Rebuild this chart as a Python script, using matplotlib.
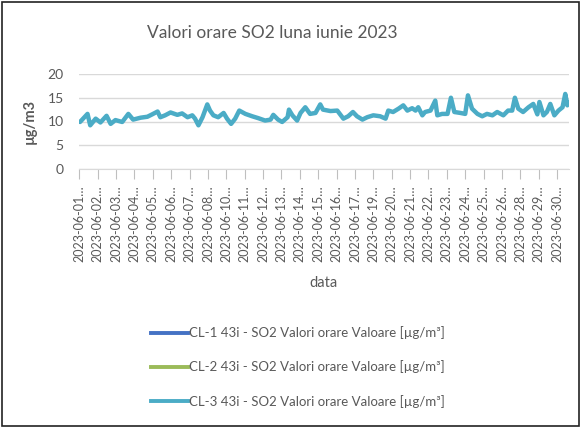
import matplotlib.pyplot as plt
from matplotlib.lines import Line2D
from matplotlib.patches import Rectangle

plt.rcParams['font.family'] = ['Lato', 'DejaVu Sans']

# ore de la 2023-06-01 01:00 si valorile citite pentru CL-3
ore = [1, 12, 16, 24, 31, 40, 46, 53, 63, 72, 79, 90, 100, 107, 115, 119, 126, 134,
       144, 151, 159, 166, 170, 175, 181, 188, 192, 197, 204, 212, 217, 223, 229,
       235, 244, 254, 263, 273, 281, 285, 292, 298, 306, 308, 313, 320, 325, 332,
       339, 347, 354, 358, 369, 379, 388, 395, 402, 408, 416, 423, 432, 442, 450,
       454, 461, 469, 476, 482, 489, 494, 498, 504, 508, 516, 523, 526, 533, 541,
       546, 551, 560, 567, 571, 577, 585, 592, 599, 607, 614, 623, 630, 636, 640,
       645, 652, 660, 667, 673, 676, 682, 687, 692, 698, 704, 710, 714, 717, 719]
so2_cl3 = [9.9, 11.6, 9.2, 10.6, 9.8, 11.2, 9.5, 10.3, 9.9, 11.6, 10.4, 10.8, 11.0,
           11.5, 12.1, 10.9, 11.3, 11.9, 11.4, 11.7, 10.9, 11.3, 10.6, 9.2, 10.9,
           13.6, 12.3, 11.3, 10.9, 11.8, 10.6, 9.5, 10.6, 12.3, 11.6, 11.1, 10.7,
           10.2, 10.4, 11.4, 10.4, 9.9, 10.9, 12.5, 11.3, 10.2, 11.8, 13.0, 11.6,
           11.8, 13.6, 12.5, 12.2, 12.3, 10.6, 11.1, 12.0, 11.1, 10.4, 10.9, 11.3,
           11.1, 10.6, 12.3, 12.0, 12.7, 13.4, 12.3, 12.8, 12.3, 13.0, 11.3, 12.0,
           12.3, 14.4, 11.3, 11.6, 11.6, 15.0, 12.0, 11.8, 11.6, 15.5, 12.7, 11.6,
           11.1, 11.6, 11.3, 12.0, 11.3, 12.3, 12.3, 15.0, 12.7, 12.0, 13.0, 13.7,
           11.5, 14.1, 11.3, 12.0, 13.7, 11.3, 12.3, 13.0, 15.8, 13.4, 14.1]

zile = ['01', '02', '03', '04', '05', '06', '07', '08', '10', '11', '12', '13', '14',
        '15', '16', '17', '19', '20', '21', '22', '23', '24', '25', '26', '28', '29', '30']
pas_eticheta = 27

serii = ['CL-1 43i - SO2 Valori orare Valoare [µg/m³]',
         'CL-2 43i - SO2 Valori orare Valoare [µg/m³]',
         'CL-3 43i - SO2 Valori orare Valoare [µg/m³]']
culori = ['#4472C4', '#9BBB59', '#4BACC6']

gri = '#595959'
fig = plt.figure(figsize=(5.81, 4.28), dpi=100)
fig.patches.append(Rectangle((2 / 581, 2 / 428), 577 / 581, 424 / 428, transform=fig.transFigure,
                             fill=False, edgecolor='#222222', lw=1.2))

ax = fig.add_axes([79 / 581, 1 - 169 / 428, 490 / 581, 95 / 428])
ax.plot(ore, so2_cl3, color=culori[2], lw=3.2, solid_joinstyle='round', solid_capstyle='round')

ax.set_xlim(-0.5, 719.5)
ax.set_ylim(0, 20)
ax.set_yticks([0, 5, 10, 15, 20])
ax.yaxis.grid(True, color='#D9D9D9', lw=1)
ax.set_axisbelow(True)
for s in ['top', 'right', 'left']:
    ax.spines[s].set_visible(False)
ax.spines['bottom'].set_color('#D9D9D9')
ax.tick_params(axis='y', length=0, pad=11, labelsize=10, labelcolor=gri)

poz = [i * pas_eticheta for i in range(len(zile))]
ax.set_xticks(poz)
ax.set_xticklabels(['2023-06-' + z + '…' for z in zile], rotation=90, fontsize=9, color=gri)
ax.tick_params(axis='x', length=7, width=0.8, color='#BFBFBF', pad=5)

ax.set_ylabel('µg/m3', fontsize=10.5, color=gri, fontweight='bold', labelpad=8)
ax.set_xlabel('data', fontsize=10.5, color=gri, labelpad=10)
fig.text(272 / 581, 1 - 33 / 428, 'Valori orare SO2 luna iunie 2023', ha='center', va='center',
         fontsize=12.5, color=gri)

handles = [Line2D([], [], color=c, lw=2.8) for c in culori]
fig.legend(handles, serii, loc='center', bbox_to_anchor=(298 / 581, 1 - 367 / 428), frameon=False,
           fontsize=9.5, labelcolor=gri, handlelength=2.8, handletextpad=0.1, labelspacing=1.6)

fig.savefig('out.png', dpi=100)
